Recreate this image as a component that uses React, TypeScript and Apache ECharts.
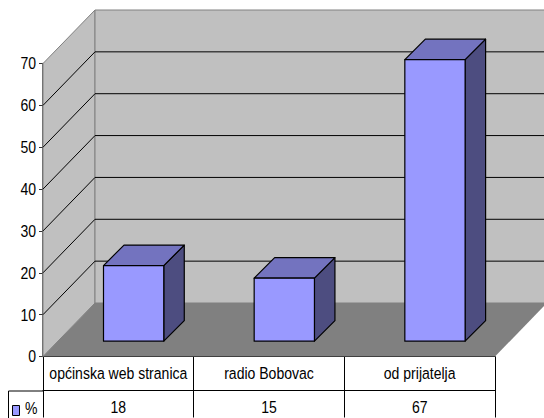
import React, { useEffect, useRef } from "react";
import * as echarts from "echarts";

const categories = ["općinska web stranica", "radio Bobovac", "od prijatelja"];
const seriesName = "%";
const values = [18, 15, 67];
const tableRow = ["18", "15", "67"];
const yTicks = [0, 10, 20, 30, 40, 50, 60, 70];

const FONT = "'Liberation Sans', Arial, sans-serif";
const FONT_SIZE = 17;
const NARROW = 0.825;
const WALL_DX = 52;
const WALL_DY = -53.5;
const BAR_DEPTH = 20.5;
const BAR_SHIFT = 15.3;
const BAR_RATIO = 0.4;

function narrowText(text: string, x: number, y: number, align: string) {
  return {
    type: "text",
    x,
    y,
    scaleX: NARROW,
    style: { text, x: 0, y: 0, align, verticalAlign: "middle", fill: "#000", font: `${FONT_SIZE}px ${FONT}` },
  };
}

function renderBackdrop(_params: any, api: any) {
  const [x0, y0] = api.coord([0, 0]);
  const size = api.size([1, 0]);
  const left = x0 - size[0] / 2;
  const right = left + size[0] * categories.length;
  const top = api.coord([0, 70])[1];
  const children: any[] = [
    {
      type: "polygon",
      shape: { points: [[left, y0], [left + WALL_DX, y0 + WALL_DY], [left + WALL_DX, top + WALL_DY], [left, top]] },
      style: { fill: "#C0C0C0", stroke: "#808080", lineWidth: 1 },
    },
    {
      type: "rect",
      shape: { x: left + WALL_DX, y: top + WALL_DY, width: right - left, height: y0 - top },
      style: { fill: "#C0C0C0", stroke: "#808080", lineWidth: 1 },
    },
    {
      type: "polygon",
      shape: { points: [[left, y0], [right, y0], [right + WALL_DX, y0 + WALL_DY], [left + WALL_DX, y0 + WALL_DY]] },
      style: { fill: "#808080" },
    },
  ];
  yTicks.filter((t) => t > 0 && t < 70).forEach((t) => {
    const y = api.coord([0, t])[1];
    children.push({
      type: "polyline",
      shape: { points: [[left, y], [left + WALL_DX, y + WALL_DY], [right + WALL_DX, y + WALL_DY]] },
      style: { fill: "none", stroke: "#000", lineWidth: 1 },
    });
  });
  // Narrow labels: axis labels cannot be condensed, so they are laid out from the same scales.
  yTicks.forEach((t) => {
    children.push(narrowText(String(t), left - 7, api.coord([0, t])[1], "right"));
  });
  categories.forEach((c, i) => {
    const cx = api.coord([i, 0])[0];
    children.push(narrowText(c, cx, y0 + 16.5, "center"));
    children.push(narrowText(tableRow[i], cx, y0 + 51, "center"));
  });
  children.push(narrowText(seriesName, 25, y0 + 52, "left"));
  return { type: "group", children };
}

function renderBar(_params: any, api: any) {
  const idx = api.value(0);
  const [cx, yTop0] = api.coord([idx, api.value(1)]);
  const yBase0 = api.coord([idx, 0])[1];
  const w = api.size([1, 0])[0] * BAR_RATIO;
  const xl = cx - w / 2 + BAR_SHIFT;
  const xr = xl + w;
  const yb = yBase0 - BAR_SHIFT;
  const yt = yb - (yBase0 - yTop0) * 1.004;
  const d = BAR_DEPTH;
  const stroke = { stroke: "#000", lineWidth: 1.2, lineJoin: "round" };
  return {
    type: "group",
    children: [
      {
        type: "polygon",
        shape: { points: [[xr, yt], [xr + d, yt - d], [xr + d, yb - d], [xr, yb]] },
        style: { fill: "#4D4D80", ...stroke },
      },
      {
        type: "polygon",
        shape: { points: [[xl, yt], [xl + d, yt - d], [xr + d, yt - d], [xr, yt]] },
        style: { fill: "#7373BF", ...stroke },
      },
      {
        type: "rect",
        shape: { x: xl, y: yt, width: w, height: yb - yt },
        style: { fill: "#9999FF", ...stroke },
      },
    ],
  };
}

export default function App() {
  const ref = useRef<HTMLDivElement>(null);
  useEffect(() => {
    const chart = echarts.init(ref.current!, undefined, { renderer: "svg" });
    chart.setOption({
      animation: false,
      backgroundColor: "#fff",
      textStyle: { fontFamily: FONT },
      grid: { left: 43, top: 63.5, width: 452, height: 293, containLabel: false },
      legend: {
        data: [{ name: seriesName, icon: "rect", itemStyle: { color: "#9999FF", borderColor: "#000", borderWidth: 1 } }],
        left: 12,
        top: 405,
        padding: 0,
        itemWidth: 7,
        itemHeight: 10,
        itemGap: 0,
        formatter: () => "",
      },
      xAxis: [
        {
          type: "category",
          data: categories,
          position: "bottom",
          axisLine: { lineStyle: { color: "#000", width: 1 } },
          axisTick: { show: true, interval: 0, length: 61, lineStyle: { color: "#000", width: 1 } },
          axisLabel: { show: false, interval: 0 },
        },
        {
          type: "category",
          data: tableRow,
          position: "bottom",
          offset: 34,
          axisLine: { lineStyle: { color: "#000", width: 1 } },
          axisTick: { show: false },
          axisLabel: { show: false },
        },
      ],
      yAxis: {
        type: "value",
        min: 0,
        max: 70,
        interval: 10,
        splitLine: { show: false },
        axisLine: { show: true, lineStyle: { color: "#333", width: 1.5 } },
        axisTick: { show: true, length: 4, lineStyle: { color: "#333", width: 1 } },
        axisLabel: { show: false },
      },
      series: [
        {
          type: "custom",
          name: "backdrop",
          renderItem: renderBackdrop,
          data: [[0, 0]],
          encode: { x: 0, y: 1 },
          silent: true,
          z: 1,
        },
        {
          type: "custom",
          name: seriesName,
          renderItem: renderBar,
          data: values.map((v, i) => [i, v]),
          encode: { x: 0, y: 1 },
          itemStyle: { color: "#9999FF", borderColor: "#000", borderWidth: 1 },
          z: 2,
        },
      ],
      graphic: [
        {
          type: "line",
          shape: { x1: 8.5, y1: 391, x2: 43, y2: 391 },
          style: { stroke: "#000", lineWidth: 1 },
        },
        {
          type: "line",
          shape: { x1: 8.5, y1: 391, x2: 8.5, y2: 418 },
          style: { stroke: "#000", lineWidth: 1 },
        },
      ],
    });
    return () => chart.dispose();
  }, []);
  return (
    <div
      ref={ref}
      style={{ position: "fixed", left: 0, top: 0, width: 544, height: 418, background: "#fff" }}
    />
  );
}
